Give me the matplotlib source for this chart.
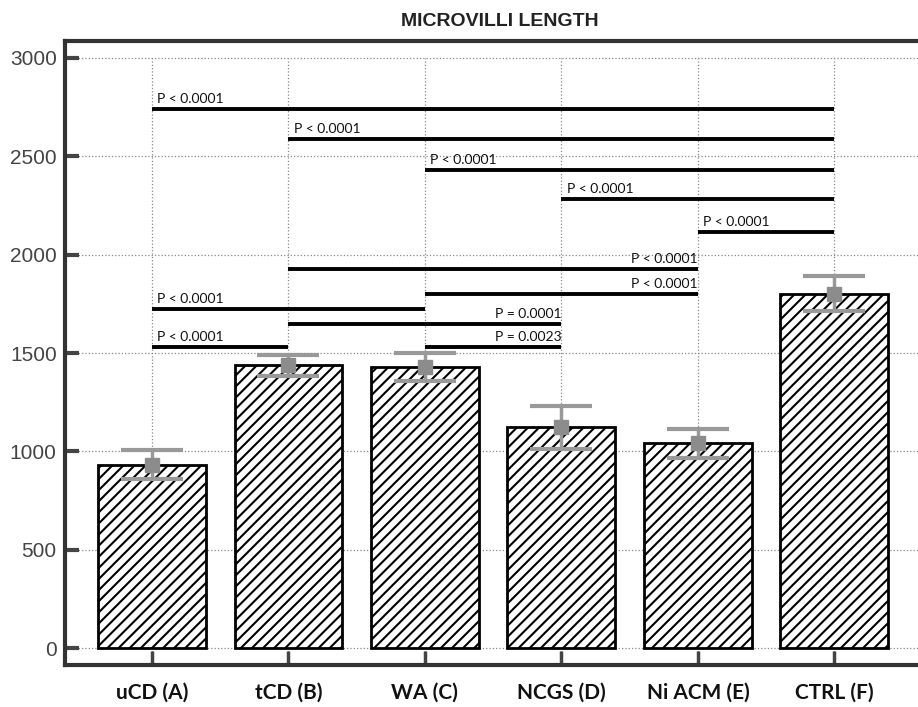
import numpy as np
import matplotlib
matplotlib.use("Agg")
import matplotlib.pyplot as plt

groups = ["uCD (A)", "tCD (B)", "WA (C)", "NCGS (D)", "Ni ACM (E)", "CTRL (F)"]
means = [933, 1438, 1428, 1122, 1042, 1802]
errors = [73, 53, 72, 107, 74, 89]

# significance comparisons: (from group, to group, height, label, label side)
sig_from = [0, 1, 2, 3, 4, 1, 2, 0, 1, 0, 2]
sig_to = [5, 5, 5, 5, 5, 4, 4, 2, 3, 1, 3]
sig_y = [2739, 2586, 2429, 2281, 2114, 1926, 1799, 1722, 1646, 1530, 1530]
sig_text = ["P < 0.0001", "P < 0.0001", "P < 0.0001", "P < 0.0001", "P < 0.0001",
            "P < 0.0001", "P < 0.0001", "P < 0.0001", "P = 0.0001", "P < 0.0001",
            "P = 0.0023"]
sig_side = ["left", "left", "left", "left", "left",
            "right", "right", "left", "right", "left", "right"]

yticks = [0, 500, 1000, 1500, 2000, 2500, 3000]

plt.rcParams['hatch.linewidth'] = 1.5
plt.rcParams['hatch.color'] = 'black'

fig = plt.figure(figsize=(9.18, 7.07), dpi=100)
ax = fig.add_axes([65 / 918, 42 / 707, 1.0 - 65 / 918 + 0.01, (665 - 41) / 707])

x = np.arange(len(groups))
ylo, yhi = -85, 3086

# grid first, so it sits behind everything
for yt in yticks:
    ax.axhline(yt, color='#888888', linestyle=':', linewidth=0.9, zorder=0)
ax.vlines(x, ylo, 3000, color='#888888', linestyle=':', linewidth=0.9, zorder=0)

ax.bar(x, means, width=0.79, facecolor='white', edgecolor='black',
       linewidth=2, hatch='///', zorder=2)
ax.errorbar(x, means, yerr=errors, fmt='s', color='#8c8c8c', ecolor='#999999',
            markersize=10, elinewidth=2.5, capsize=22, capthick=3, zorder=3)

dx = 0.04
for a, b, y, t, side in zip(sig_from, sig_to, sig_y, sig_text, sig_side):
    ax.plot([a, b], [y, y], color='black', linewidth=2.8, solid_capstyle='butt', zorder=4)
    if side == "left":
        ax.text(a + dx, y + 22, t, ha='left', va='bottom', fontsize=10,
                family='Lato', color='#111111', zorder=5)
    else:
        ax.text(b, y + 22, t, ha='right', va='bottom', fontsize=10,
                family='Lato', color='#111111', zorder=5)

ax.set_xlim(-0.637, 5.68)
ax.set_ylim(ylo, yhi)

ax.set_yticks(yticks)
ax.set_yticklabels([str(v) for v in yticks], fontsize=15, family='Liberation Sans',
                   color='#444444')
ax.set_xticks(x)
ax.set_xticklabels(groups, fontsize=15, family='Lato', fontweight='bold', color='#111111')
ax.tick_params(axis='y', direction='in', length=10, width=3, color='#444444', pad=6)
ax.tick_params(axis='x', direction='in', length=10, width=2.5, color='#444444', pad=13)

for s in ['left', 'top', 'bottom']:
    ax.spines[s].set_linewidth(3)
    ax.spines[s].set_color('#333333')
ax.spines['right'].set_visible(False)

fig.text(500 / 918, 1 - 22 / 707, "MICROVILLI LENGTH", ha='center', va='center',
         fontsize=14, fontweight='bold', family='Liberation Sans', color='#222222')

fig.savefig("out.png", dpi=100)
